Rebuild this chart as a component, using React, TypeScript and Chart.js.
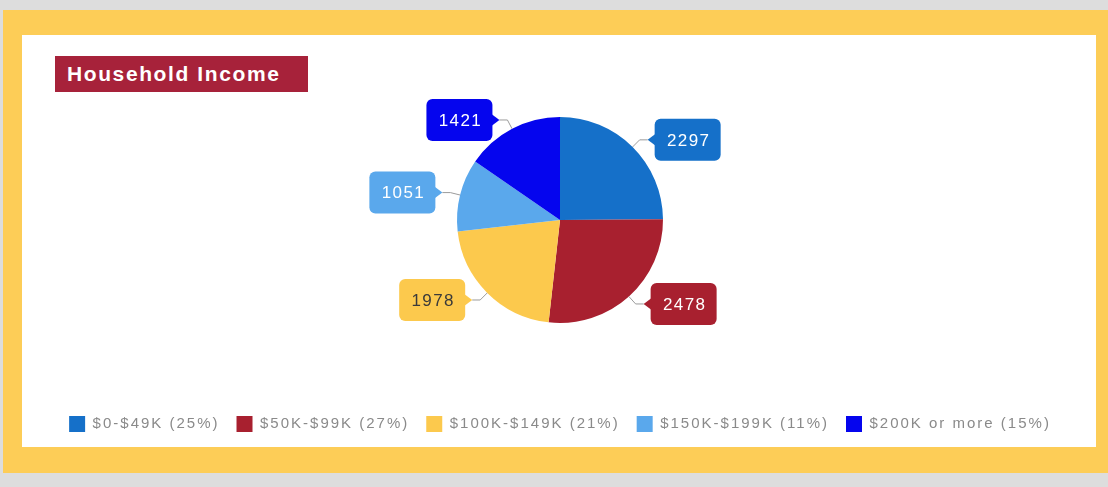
import React, { useEffect, useRef } from 'react';
import { Chart, registerables } from 'chart.js';

Chart.register(...registerables);

// ---- data ----
const categories = [
  '$0-$49K (25%)',
  '$50K-$99K (27%)',
  '$100K-$149K (21%)',
  '$150K-$199K (11%)',
  '$200K or more (15%)',
];
const households = [2297, 2478, 1978, 1051, 1421];
const sliceColors = ['#1570C9', '#A8202F', '#FCC94D', '#5AA8EC', '#0505EE'];
const calloutTextColors = ['#ffffff', '#ffffff', '#3a3a3a', '#ffffff', '#ffffff'];
const chartTitle = 'Household Income';

const FONT = '"Liberation Sans", Arial, sans-serif';

const spacingPlugin = {
  id: 'letterSpacing',
  beforeLayout(chart: any) {
    chart.ctx.letterSpacing = '2px';
  },
  beforeDraw(chart: any) {
    chart.ctx.letterSpacing = '2px';
  },
};

const calloutPlugin = {
  id: 'callouts',
  afterDatasetsDraw(chart: any) {
    const ctx = chart.ctx as CanvasRenderingContext2D;
    const meta = chart.getDatasetMeta(0);
    meta.data.forEach((arc: any, i: number) => {
      const { x, y, startAngle, endAngle, outerRadius } = arc.getProps(
        ['x', 'y', 'startAngle', 'endAngle', 'outerRadius'],
        true
      );
      const mid = (startAngle + endAngle) / 2;
      const c = Math.cos(mid);
      const s = Math.sin(mid);
      const side = c >= 0 ? 1 : -1;
      const p0x = x + c * outerRadius;
      const p0y = y + s * outerRadius;
      const p1x = x + c * (outerRadius + 10);
      const p1y = y + s * (outerRadius + 10);
      const tipX = p1x + side * 8;
      const bodyX = tipX + side * 7;
      const w = 66;
      const h = 42;
      const left = side > 0 ? bodyX : bodyX - w;
      const top = p1y - h / 2;
      ctx.save();
      ctx.letterSpacing = '0px';
      ctx.strokeStyle = '#9b9b9b';
      ctx.lineWidth = 1;
      ctx.beginPath();
      ctx.moveTo(p0x, p0y);
      ctx.lineTo(p1x, p1y);
      ctx.lineTo(tipX, p1y);
      ctx.stroke();
      ctx.fillStyle = sliceColors[i];
      ctx.beginPath();
      (ctx as any).roundRect(left, top, w, h, 6);
      ctx.fill();
      ctx.beginPath();
      ctx.moveTo(bodyX + side, p1y - 6);
      ctx.lineTo(tipX, p1y);
      ctx.lineTo(bodyX + side, p1y + 6);
      ctx.closePath();
      ctx.fill();
      ctx.letterSpacing = '1.4px';
      ctx.font = `17px ${FONT}`;
      ctx.fillStyle = calloutTextColors[i];
      ctx.textAlign = 'center';
      ctx.textBaseline = 'middle';
      ctx.fillText(String(households[i]), left + w / 2 + 1, p1y + 1);
      ctx.restore();
    });
  },
};

export default function App() {
  const canvasRef = useRef<HTMLCanvasElement | null>(null);

  useEffect(() => {
    if (!canvasRef.current) return;
    const chart = new Chart(canvasRef.current, {
      type: 'pie',
      data: {
        labels: categories,
        datasets: [
          {
            data: households,
            backgroundColor: sliceColors,
            borderWidth: 0,
          },
        ],
      },
      options: {
        responsive: false,
        animation: false,
        devicePixelRatio: 1,
        events: [],
        radius: 103,
        layout: { padding: { top: 6, bottom: 5, left: 2, right: 0 } },
        plugins: {
          tooltip: { enabled: false },
          title: { display: false },
          legend: {
            display: true,
            position: 'bottom',
            align: 'center',
            labels: {
              boxWidth: 16,
              boxHeight: 16,
              padding: 17,
              color: '#8a8a8a',
              font: { family: FONT, size: 15 },
            },
          },
        },
      } as any,
      plugins: [spacingPlugin, calloutPlugin],
    });
    return () => chart.destroy();
  }, []);

  return (
    <div
      style={{
        position: 'absolute',
        left: 0,
        top: 0,
        width: 1108,
        height: 487,
        background: '#dddddd',
        overflow: 'hidden',
      }}
    >
      <div
        style={{
          position: 'absolute',
          left: 3,
          top: 10,
          width: 1105,
          height: 463,
          background: '#FDCD57',
        }}
      />
      <div
        style={{
          position: 'absolute',
          left: 22,
          top: 35,
          width: 1074,
          height: 412,
          background: '#ffffff',
        }}
      />
      <canvas
        ref={canvasRef}
        width={1074}
        height={412}
        style={{ position: 'absolute', left: 22, top: 35, width: 1074, height: 412 }}
      />
      <div
        style={{
          position: 'absolute',
          left: 55,
          top: 56,
          width: 253,
          height: 36,
          background: '#A7223A',
          color: '#ffffff',
          fontFamily: FONT,
          fontWeight: 'bold',
          fontSize: 21,
          letterSpacing: '1.6px',
          lineHeight: '36px',
          paddingLeft: 12,
          boxSizing: 'border-box',
          whiteSpace: 'nowrap',
        }}
      >
        {chartTitle}
      </div>
    </div>
  );
}
